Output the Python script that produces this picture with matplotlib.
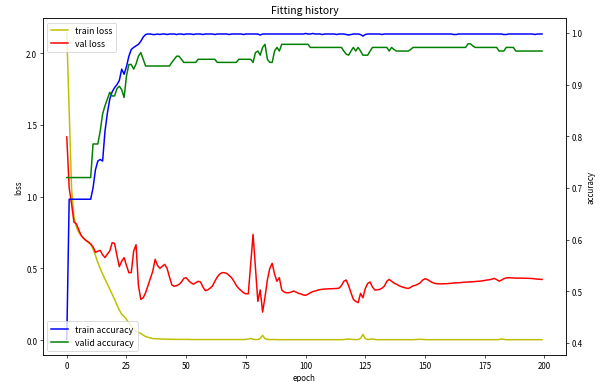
import matplotlib
matplotlib.use("Agg")
import matplotlib.pyplot as plt
import numpy as np

plt.rcParams["font.family"] = ["Noto Sans CJK KR", "DejaVu Sans"]
plt.rcParams["axes.unicode_minus"] = False

epochs = np.arange(200)

train_loss = [
	2.137, 1.60, 1.06, 0.86, 0.79, 0.75, 0.73, 0.71, 0.695, 0.68,
	0.67, 0.635, 0.59, 0.54, 0.50, 0.46, 0.425, 0.39, 0.355, 0.32,
	0.285, 0.245, 0.21, 0.18, 0.165, 0.145, 0.12, 0.10, 0.08, 0.063,
	0.052, 0.047, 0.035, 0.025, 0.02, 0.015, 0.011, 0.010, 0.009, 0.008,
	0.007, 0.007, 0.006, 0.006, 0.006, 0.005, 0.005, 0.005, 0.005, 0.005,
	0.005, 0.005, 0.004, 0.004, 0.004, 0.004, 0.004, 0.004, 0.004, 0.004,
	0.004, 0.004, 0.004, 0.004, 0.004, 0.004, 0.004, 0.004, 0.004, 0.004,
	0.004, 0.004, 0.004, 0.004, 0.004, 0.005, 0.007, 0.012, 0.006, 0.004,
	0.004, 0.012, 0.033, 0.010, 0.005, 0.004, 0.004, 0.004, 0.003, 0.003,
	0.003, 0.003, 0.003, 0.003, 0.003, 0.003, 0.003, 0.003, 0.003, 0.003,
	0.003, 0.003, 0.003, 0.003, 0.003, 0.003, 0.003, 0.003, 0.003, 0.003,
	0.003, 0.003, 0.003, 0.003, 0.003, 0.003, 0.004, 0.006, 0.008, 0.006,
	0.004, 0.004, 0.004, 0.012, 0.040, 0.010, 0.004, 0.006, 0.008, 0.005,
	0.003, 0.003, 0.003, 0.003, 0.003, 0.003, 0.003, 0.003, 0.003, 0.003,
	0.003, 0.003, 0.003, 0.003, 0.003, 0.003, 0.004, 0.005, 0.006, 0.005,
	0.004, 0.003, 0.003, 0.003, 0.003, 0.003, 0.003, 0.003, 0.003, 0.003,
	0.003, 0.003, 0.003, 0.003, 0.003, 0.003, 0.003, 0.003, 0.003, 0.003,
	0.003, 0.003, 0.003, 0.003, 0.003, 0.003, 0.003, 0.003, 0.003, 0.003,
	0.003, 0.004, 0.008, 0.006, 0.003, 0.003, 0.003, 0.003, 0.003, 0.003,
	0.003, 0.003, 0.003, 0.003, 0.003, 0.003, 0.003, 0.003, 0.003, 0.003,
]

val_loss = [
	1.416, 1.06, 0.95, 0.823, 0.81, 0.77, 0.73, 0.71, 0.695, 0.685,
	0.67, 0.65, 0.612, 0.62, 0.625, 0.595, 0.575, 0.60, 0.621, 0.679,
	0.674, 0.59, 0.512, 0.55, 0.575, 0.52, 0.47, 0.47, 0.62, 0.665,
	0.38, 0.284, 0.295, 0.33, 0.38, 0.43, 0.48, 0.563, 0.52, 0.50,
	0.515, 0.528, 0.50, 0.44, 0.385, 0.375, 0.38, 0.388, 0.405, 0.43,
	0.435, 0.415, 0.40, 0.39, 0.40, 0.41, 0.405, 0.37, 0.345, 0.35,
	0.362, 0.377, 0.41, 0.44, 0.46, 0.47, 0.47, 0.465, 0.45, 0.435,
	0.41, 0.38, 0.36, 0.345, 0.33, 0.323, 0.323, 0.53, 0.737, 0.50,
	0.27, 0.35, 0.195, 0.30, 0.42, 0.50, 0.535, 0.46, 0.41, 0.435,
	0.35, 0.335, 0.33, 0.33, 0.335, 0.342, 0.335, 0.326, 0.322, 0.315,
	0.312, 0.32, 0.33, 0.338, 0.342, 0.348, 0.352, 0.354, 0.356, 0.357,
	0.358, 0.358, 0.359, 0.36, 0.362, 0.38, 0.41, 0.419, 0.38, 0.33,
	0.284, 0.27, 0.261, 0.326, 0.295, 0.36, 0.395, 0.405, 0.37, 0.349,
	0.35, 0.354, 0.362, 0.377, 0.41, 0.423, 0.41, 0.398, 0.39, 0.38,
	0.373, 0.368, 0.363, 0.36, 0.368, 0.378, 0.382, 0.39, 0.40, 0.418,
	0.428, 0.422, 0.412, 0.402, 0.396, 0.393, 0.392, 0.392, 0.393, 0.393,
	0.395, 0.396, 0.398, 0.399, 0.400, 0.401, 0.403, 0.404, 0.405, 0.406,
	0.407, 0.408, 0.410, 0.411, 0.413, 0.416, 0.419, 0.421, 0.425, 0.43,
	0.422, 0.411, 0.418, 0.428, 0.433, 0.435, 0.434, 0.433, 0.432, 0.432,
	0.432, 0.432, 0.431, 0.431, 0.43, 0.429, 0.427, 0.425, 0.424, 0.423,
]

train_acc = [
	0.406, 0.678, 0.678, 0.678, 0.678, 0.678, 0.678, 0.678, 0.678, 0.678,
	0.678, 0.70, 0.735, 0.752, 0.755, 0.752, 0.81, 0.845, 0.872, 0.886,
	0.894, 0.900, 0.908, 0.930, 0.920, 0.935, 0.955, 0.968, 0.972, 0.975,
	0.978, 0.984, 0.992, 0.997, 0.998, 0.998, 0.997, 0.997, 0.998, 0.997,
	0.998, 0.998, 0.997, 0.998, 0.998, 0.998, 0.997, 0.998, 0.998, 0.997,
	0.998, 0.998, 0.998, 0.997, 0.998, 0.998, 0.998, 0.997, 0.998, 0.998,
	0.998, 0.998, 0.997, 0.998, 0.998, 0.998, 0.998, 0.998, 0.997, 0.998,
	0.998, 0.998, 0.998, 0.998, 0.997, 0.998, 0.998, 0.998, 0.998, 0.998,
	0.998, 0.996, 0.998, 0.998, 0.998, 0.998, 0.998, 0.998, 0.998, 0.998,
	0.998, 0.998, 0.998, 0.998, 0.998, 0.998, 0.998, 0.998, 0.998, 0.998,
	0.999, 0.998, 0.998, 0.999, 0.998, 0.998, 0.998, 0.997, 0.998, 0.998,
	0.998, 0.998, 0.998, 0.997, 0.998, 0.998, 0.998, 0.997, 0.996, 0.997,
	0.998, 0.998, 0.998, 0.997, 0.994, 0.997, 0.998, 0.998, 0.998, 0.998,
	0.998, 0.998, 0.997, 0.998, 0.998, 0.998, 0.998, 0.998, 0.998, 0.998,
	0.998, 0.998, 0.998, 0.998, 0.998, 0.998, 0.998, 0.998, 0.998, 0.998,
	0.998, 0.998, 0.998, 0.998, 0.998, 0.998, 0.998, 0.998, 0.998, 0.998,
	0.998, 0.998, 0.997, 0.997, 0.998, 0.998, 0.998, 0.998, 0.998, 0.998,
	0.998, 0.998, 0.998, 0.998, 0.998, 0.998, 0.998, 0.998, 0.998, 0.998,
	0.998, 0.998, 0.998, 0.997, 0.997, 0.998, 0.998, 0.998, 0.998, 0.998,
	0.998, 0.998, 0.998, 0.998, 0.998, 0.998, 0.997, 0.998, 0.998, 0.998,
]

valid_acc = [
	0.720, 0.720, 0.720, 0.720, 0.720, 0.720, 0.720, 0.720, 0.720, 0.720,
	0.720, 0.785, 0.785, 0.785, 0.81, 0.843, 0.859, 0.872, 0.885, 0.878,
	0.878, 0.892, 0.897, 0.890, 0.875, 0.917, 0.939, 0.939, 0.930, 0.940,
	0.955, 0.962, 0.949, 0.936, 0.936, 0.936, 0.936, 0.936, 0.936, 0.936,
	0.936, 0.936, 0.936, 0.936, 0.943, 0.949, 0.955, 0.955, 0.949, 0.943,
	0.943, 0.943, 0.943, 0.943, 0.943, 0.949, 0.949, 0.949, 0.949, 0.949,
	0.949, 0.949, 0.949, 0.943, 0.943, 0.943, 0.943, 0.943, 0.943, 0.943,
	0.943, 0.943, 0.949, 0.949, 0.949, 0.949, 0.949, 0.949, 0.943, 0.962,
	0.965, 0.957, 0.972, 0.978, 0.949, 0.943, 0.943, 0.965, 0.972, 0.965,
	0.978, 0.978, 0.978, 0.978, 0.978, 0.978, 0.978, 0.978, 0.978, 0.978,
	0.978, 0.978, 0.972, 0.972, 0.972, 0.972, 0.972, 0.972, 0.972, 0.972,
	0.972, 0.972, 0.972, 0.972, 0.972, 0.972, 0.965, 0.959, 0.957, 0.965,
	0.972, 0.965, 0.972, 0.965, 0.957, 0.957, 0.957, 0.965, 0.972, 0.972,
	0.972, 0.972, 0.972, 0.972, 0.972, 0.965, 0.972, 0.968, 0.965, 0.965,
	0.965, 0.965, 0.965, 0.965, 0.968, 0.972, 0.972, 0.972, 0.972, 0.972,
	0.972, 0.972, 0.972, 0.972, 0.972, 0.972, 0.972, 0.972, 0.972, 0.972,
	0.972, 0.972, 0.972, 0.972, 0.972, 0.972, 0.972, 0.972, 0.979, 0.979,
	0.975, 0.972, 0.972, 0.972, 0.972, 0.972, 0.972, 0.972, 0.972, 0.972,
	0.972, 0.965, 0.965, 0.965, 0.972, 0.972, 0.972, 0.972, 0.965, 0.965,
	0.965, 0.965, 0.965, 0.965, 0.965, 0.965, 0.965, 0.965, 0.965, 0.965,
]

fs = 9.5

fig, loss_ax = plt.subplots(figsize=(10, 6.383), dpi=60)
fig.subplots_adjust(left=0.0717, right=0.943, bottom=0.0705, top=0.950)
acc_ax = loss_ax.twinx()

lw = 1.8
loss_ax.plot(epochs, train_loss, "y", lw=lw, label="train loss")
loss_ax.plot(epochs, val_loss, "r", lw=lw, label="val loss")
acc_ax.plot(epochs, train_acc, "b", lw=lw, label="train accuracy")
acc_ax.plot(epochs, valid_acc, "g", lw=lw, label="valid accuracy")

loss_ax.set_xlabel("epoch", fontsize=fs)
loss_ax.set_ylabel("loss", fontsize=fs)
acc_ax.set_ylabel("accuracy", fontsize=fs)
loss_ax.tick_params(labelsize=fs)
acc_ax.tick_params(labelsize=fs)

loss_ax.legend(loc="upper left", fontsize=10.5)
acc_ax.legend(loc="lower left", fontsize=10.5)
plt.title("Fitting history", fontsize=12.5)

plt.savefig("out.png", dpi=60)
plt.close()
